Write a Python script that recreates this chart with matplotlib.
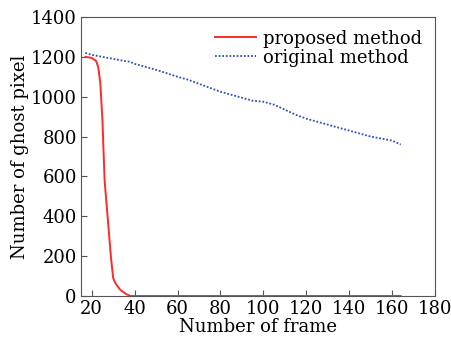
import matplotlib
matplotlib.use("Agg")
import matplotlib.pyplot as plt

red_frames = [17, 20, 22, 23, 24, 25, 26, 27, 28, 29, 30, 31, 32, 33, 34, 35, 36, 37, 38, 164]
red_vals = [1200, 1195, 1180, 1150, 1070, 880, 580, 450, 320, 190, 90, 65, 50, 35, 25, 18, 10, 5, 0, 0]

blue_frames = [17, 20, 25, 30, 35, 38, 40, 45, 50, 55, 60, 65, 70, 75, 80, 85, 90, 95,
               100, 105, 110, 115, 120, 125, 130, 135, 140, 145, 150, 155, 160, 164]
blue_vals = [1220, 1210, 1200, 1190, 1180, 1175, 1165, 1150, 1135, 1118, 1100, 1085, 1065,
             1045, 1025, 1010, 995, 980, 975, 960, 935, 910, 890, 875, 860, 845, 830, 815,
             800, 790, 780, 760]

plt.rcParams['font.family'] = 'DejaVu Serif'
fig = plt.figure(figsize=(4.51, 3.39), dpi=100)
ax = fig.add_axes([0.1796, 0.1268, 0.785, 0.823])

ax.plot(red_frames, red_vals, color='#ff2a2a', lw=1.4, label='proposed method', clip_on=False)
ax.plot(blue_frames, blue_vals, color='#2a4fc0', lw=1.3, ls=(0, (1, 1)), label='original method')

ax.set_xlim(15, 180)
ax.set_ylim(0, 1400)
ax.set_xticks(range(20, 181, 20))
ax.set_yticks(range(0, 1401, 200))
ax.tick_params(direction='in', length=4, labelsize=13, color='#555555', pad=3)
for s in ax.spines.values():
    s.set_color('#555555')
ax.set_xlabel('Number of frame', fontsize=13, labelpad=0)
ax.set_ylabel('Number of ghost pixel', fontsize=13, labelpad=1)
ax.legend(loc='upper right', frameon=False, fontsize=13, handlelength=2.3,
          borderaxespad=0.3, labelspacing=0.05, handletextpad=0.4)

fig.savefig('out.png', dpi=100)
